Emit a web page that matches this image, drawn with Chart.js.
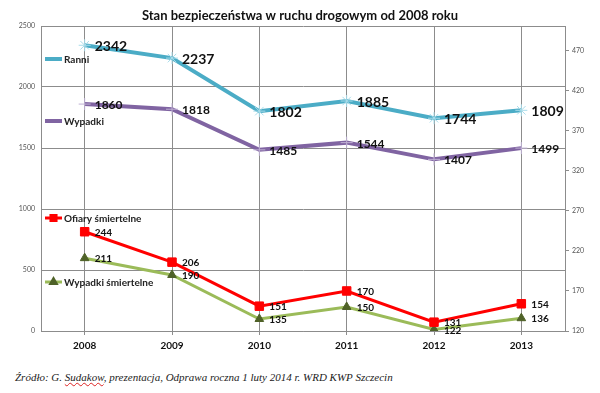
<!DOCTYPE html>
<html>
<head>
<meta charset="utf-8">
<script src="https://cdn.jsdelivr.net/npm/chart.js@4"></script>
<style>
  body { margin: 0; background: #fff; width: 600px; height: 393px; overflow: hidden; }
  #wrap { position: relative; width: 600px; height: 360px; }
  #src { position: absolute; left: 15px; top: 371px; font: italic 11px "Liberation Serif", serif; color: #222; white-space: nowrap; }
  .sp { text-decoration: underline wavy #d22; text-decoration-thickness: 1px; }
</style>
</head>
<body>
<div id="wrap"><canvas id="myChart"></canvas></div>
<div id="src">Źródło: G. <span class="sp">Sudakow</span>, prezentacja, Odprawa roczna 1 luty 2014 r. WRD KWP Szczecin</div>
<script>
const years = ['2008', '2009', '2010', '2011', '2012', '2013'];
const ranni = [2342, 2237, 1802, 1885, 1744, 1809];
const wypadki = [1860, 1818, 1485, 1544, 1407, 1499];
const ofiary = [244, 206, 151, 170, 131, 154];
const wypadkiSmiertelne = [211, 190, 135, 150, 122, 136];
const leftTicks = [0, 500, 1000, 1500, 2000, 2500];
const rightTicks = [120, 170, 220, 270, 320, 370, 420, 470];

// value labels to the right of each point
const pointLabels = {
    id: 'pointLabels',
    afterDatasetsDraw(chart) {
        const ctx = chart.ctx;
        chart.data.datasets.forEach((ds, i) => {
            const meta = chart.getDatasetMeta(i);
            ctx.save();
            ctx.font = 'bold ' + ds.labelSize + 'px Lato';
            ctx.fillStyle = '#111';
            ctx.textBaseline = 'middle';
            meta.data.forEach((pt, j) => {
                ctx.fillText(ds.data[j], pt.x + 10, pt.y + 1);
            });
            ctx.restore();
        });
    }
};

// Excel-style legend entries sitting inside the plot
const inlineLegend = {
    id: 'inlineLegend',
    afterDraw(chart) {
        const ctx = chart.ctx;
        const x0 = chart.chartArea.left + 4;
        chart.data.datasets.forEach(ds => {
            const y = ds.legendY;
            ctx.save();
            ctx.strokeStyle = ds.borderColor;
            ctx.lineWidth = ds.borderWidth;
            ctx.beginPath();
            ctx.moveTo(x0, y);
            ctx.lineTo(x0 + 17, y);
            ctx.stroke();
            if (ds.legendMarker) {
                ctx.fillStyle = ds.pointBackgroundColor;
                ctx.strokeStyle = ds.pointBorderColor;
                Chart.helpers.drawPoint(ctx, {
                    pointStyle: ds.pointStyle,
                    radius: ds.pointRadius * 0.6,
                    rotation: 0,
                    borderWidth: 1
                }, x0 + 8.5, y);
            }
            ctx.font = 'bold 10px Lato';
            ctx.fillStyle = '#222';
            ctx.textBaseline = 'middle';
            ctx.fillText(ds.label, x0 + 19, y + 1);
            ctx.restore();
        });
    }
};

const data = {
    labels: years,
    datasets: [{
        label: 'Ranni',
        data: ranni,
        yAxisID: 'y',
        borderColor: '#4bacc6',
        backgroundColor: '#4bacc6',
        borderWidth: 4,
        pointStyle: 'star',
        pointRadius: 6,
        pointBorderWidth: 1,
        pointBorderColor: '#a8dcea',
        pointBackgroundColor: '#a8dcea',
        labelSize: 14,
        legendY: 59
    }, {
        label: 'Wypadki',
        data: wypadki,
        yAxisID: 'y',
        borderColor: '#8064a2',
        backgroundColor: '#8064a2',
        borderWidth: 4,
        pointStyle: 'cross',
        pointRadius: 6,
        pointBorderWidth: 1,
        pointBorderColor: '#bfb1d4',
        pointBackgroundColor: '#bfb1d4',
        labelSize: 12,
        legendY: 121
    }, {
        label: 'Ofiary śmiertelne',
        data: ofiary,
        yAxisID: 'y1',
        borderColor: '#ff0000',
        backgroundColor: '#ff0000',
        borderWidth: 3,
        pointStyle: 'rect',
        pointRadius: 6,
        pointBorderWidth: 1,
        pointBorderColor: '#ff0000',
        pointBackgroundColor: '#ff0000',
        labelSize: 10,
        legendY: 218,
        legendMarker: true
    }, {
        label: 'Wypadki śmiertelne',
        data: wypadkiSmiertelne,
        yAxisID: 'y1',
        borderColor: '#9bbb59',
        backgroundColor: '#9bbb59',
        borderWidth: 3,
        pointStyle: 'triangle',
        pointRadius: 5,
        pointBorderWidth: 1,
        pointBorderColor: '#4f6228',
        pointBackgroundColor: '#4f6228',
        labelSize: 10,
        legendY: 282,
        legendMarker: true
    }]
};

const config = {
    type: 'line',
    data: data,
    plugins: [pointLabels, inlineLegend],
    options: {
        responsive: true,
        maintainAspectRatio: false,
        animation: false,
        layout: { padding: 0 },
        elements: { line: { tension: 0 } },
        scales: {
            x: {
                offset: true,
                grid: { color: '#8c8c8c', tickLength: 4 },
                border: { color: '#8c8c8c' },
                ticks: { font: { family: 'Lato', size: 10, weight: 'bold' }, color: '#111', padding: 5 },
                afterFit(s) { s.height = 29; }
            },
            y: {
                position: 'left',
                min: 0,
                max: 2500,
                afterBuildTicks(s) { s.ticks = leftTicks.map(v => ({ value: v })); },
                grid: { color: '#8c8c8c', drawTicks: false },
                border: { color: '#8c8c8c' },
                ticks: { font: { family: 'Lato', size: 7 }, color: '#555', padding: 6, callback: v => String(v) },
                afterFit(s) { s.width = 41; }
            },
            y1: {
                position: 'right',
                min: 120,
                max: 501,
                afterBuildTicks(s) { s.ticks = rightTicks.map(v => ({ value: v })); },
                grid: { drawOnChartArea: false, color: '#8c8c8c', tickLength: 4 },
                border: { color: '#8c8c8c' },
                ticks: { font: { family: 'Lato', size: 7 }, color: '#555', padding: 3, callback: v => String(v) },
                afterFit(s) { s.width = 35; }
            }
        },
        plugins: {
            legend: { display: false },
            tooltip: { enabled: false },
            title: {
                display: true,
                text: 'Stan bezpieczeństwa w ruchu drogowym od 2008 roku',
                color: '#111',
                font: { family: 'Lato', size: 13, weight: 'bold' },
                padding: { top: 8, bottom: 2.4 }
            }
        }
    }
};

const myChart = new Chart(document.getElementById('myChart'), config);
</script>
</body>
</html>
